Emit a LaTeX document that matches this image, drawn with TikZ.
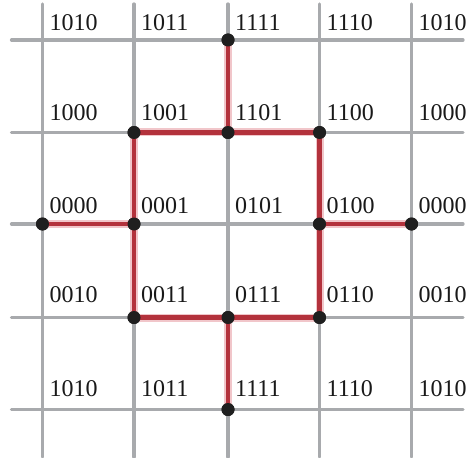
\documentclass[tikz,border=0pt]{standalone}
\usepackage{fontspec}
\setmainfont{Liberation Serif}
\definecolor{gridgray}{HTML}{A8AAAD}
\definecolor{pathred}{HTML}{B3323C}
\definecolor{redglow}{HTML}{E0808A}
\begin{document}
\begin{tikzpicture}[x=1pt,y=-1pt,
  grid/.style={draw=gridgray, line width=3.2pt, line cap=round},
  glow/.style={draw=redglow, line width=8pt, opacity=0.45, line join=round},
  redpath/.style={draw=pathred, line width=4.6pt, line join=round},
  dot/.style={circle, fill=black!88, inner sep=0pt, minimum size=13pt},
  lbl/.style={anchor=base west, inner sep=0pt, font=\fontsize{24}{24}\selectfont, text=black!90}]
\useasboundingbox (0,0) rectangle (470,457);
% grid lines
\foreach \x in {42.5,134,228,319.5,411.5} \draw[grid] (\x,4) -- (\x,457);
\foreach \y in {40,132.5,224,317.5,409.5} \draw[grid] (11.5,\y) -- (463,\y);
% intersection coordinates
\foreach \x [count=\c] in {42.5,134,228,319.5,411.5}
  \foreach \y [count=\r] in {40,132.5,224,317.5,409.5}
    \coordinate (p\c\r) at (\x,\y);
% labels
\foreach \row/\dy [count=\r] in {{1010,1011,1111,1110,1010}/9.5,
                                 {1000,1001,1101,1100,1000}/12,
                                 {0000,0001,0101,0100,0000}/11,
                                 {0010,0011,0111,0110,0010}/15,
                                 {1010,1011,1111,1110,1010}/13}
  \foreach \t [count=\c] in \row
    \node[lbl] (l\c\r) at ([xshift=7pt,yshift=\dy pt]p\c\r) {\t};
% dots (nodes)
\foreach \n in {13,23,22,32,31,42,43,53,24,34,35,44}
  \node[dot] (d\n) at (p\n) {};
% red path: glow then core
\foreach \s in {glow,redpath}{
  \draw[\s] (d13.center) -- (d23.center) -- (d22.center) -- (d32.center) -- (d31.center);
  \draw[\s] (d32.center) -- (d42.center) -- (d43.center) -- (d53.center);
  \draw[\s] (d23.center) -- (d24.center) -- (d34.center) -- (d35.center);
  \draw[\s] (d34.center) -- (d44.center) -- (d43.center);
}
% redraw dots on top
\foreach \n in {13,23,22,32,31,42,43,53,24,34,35,44}
  \fill[black!88] (d\n.center) circle (6.5pt);
\end{tikzpicture}
\end{document}
